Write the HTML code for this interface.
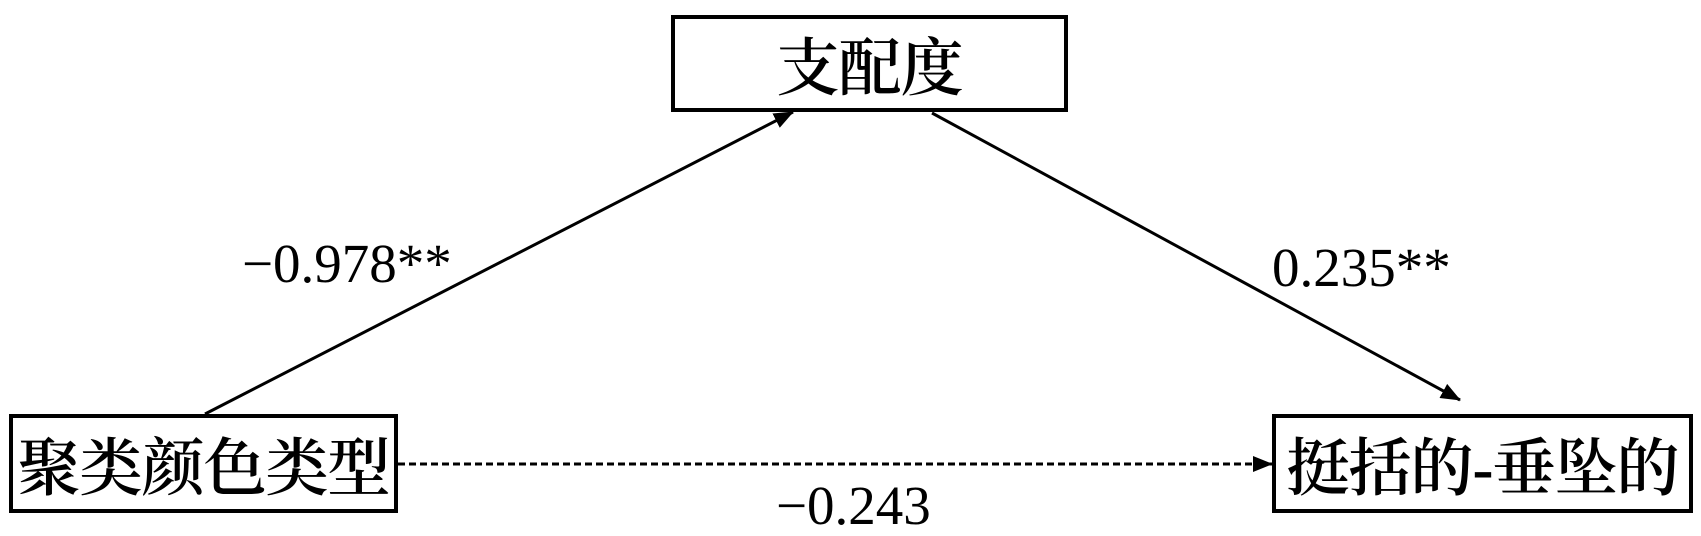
<!DOCTYPE html>
<html><head><meta charset="utf-8"><style>
body{margin:0;width:1701px;height:531px;background:#fff;overflow:hidden;position:relative}
.b{position:absolute;border:4px solid #000;box-sizing:border-box;display:flex;align-items:center;justify-content:center;font-family:"Liberation Serif","Noto Serif CJK SC",serif;font-size:63px;font-weight:600;white-space:nowrap;letter-spacing:-1px}
.t{position:absolute;font-family:"Liberation Serif",serif;font-size:55px;line-height:1;white-space:nowrap}
</style></head><body>
<svg width="1701" height="531" style="position:absolute;left:0;top:0">
<defs>
<marker id="m" markerWidth="20" markerHeight="16" refX="19" refY="8" orient="auto" markerUnits="userSpaceOnUse"><path d="M0,0L20,8L0,16z" fill="#000"/></marker></defs>
<line x1="205" y1="414" x2="793" y2="112" stroke="#000" stroke-width="3" marker-end="url(#m)"/>
<line x1="932" y1="113" x2="1460" y2="400" stroke="#000" stroke-width="3" marker-end="url(#m)"/>
<line x1="398" y1="464" x2="1272" y2="464" stroke="#000" stroke-width="3" stroke-dasharray="7,4" marker-end="url(#m)"/>
</svg>
<div class="b" style="left:671px;top:15px;width:397px;height:97px">支配度</div>
<div class="b" style="left:9px;top:414px;width:389px;height:99px">聚类颜色类型</div>
<div class="b" style="left:1272px;top:414px;width:421px;height:99px">挺括的-垂坠的</div>
<div class="t" style="left:242px;top:236px">−0.978**</div>
<div class="t" style="left:1272px;top:240px">0.235**</div>
<div class="t" style="left:776px;top:478px">−0.243</div>
</body></html>
